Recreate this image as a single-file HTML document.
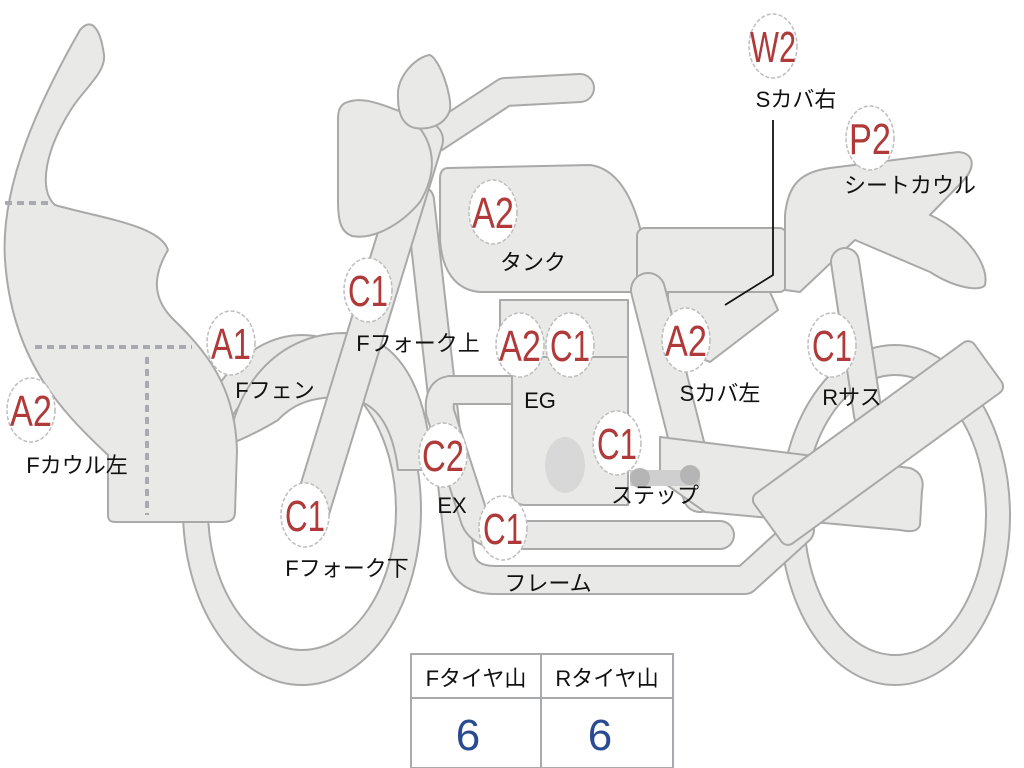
<!DOCTYPE html>
<html><head><meta charset="utf-8"><style>
html,body{margin:0;padding:0;background:#fff;}
svg{display:block}
.s{fill:#e9e9e7;stroke:#a9a9a9;stroke-width:2;stroke-linejoin:round}
.to{fill:none;stroke:#a9a9a9;stroke-linecap:round;stroke-linejoin:round}
.ti{fill:none;stroke:#e9e9e7;stroke-linecap:round;stroke-linejoin:round}
.lc{fill:#fff;stroke:#bdbdbd;stroke-width:1.5;stroke-dasharray:4 2}
.r{fill:#b03a3a;font-family:"Liberation Sans",sans-serif;font-size:44px;text-anchor:middle}
.k{fill:#111;font-family:"Liberation Sans","Noto Sans CJK JP",sans-serif;font-size:22px;text-anchor:middle}
</style></head><body>
<svg width="1024" height="768" viewBox="0 0 1024 768" xmlns="http://www.w3.org/2000/svg">
<!-- wheels -->
<ellipse class="s" cx="302" cy="510" rx="119" ry="175"/>
<ellipse cx="302" cy="510" rx="94" ry="140" fill="#fff" stroke="#a9a9a9" stroke-width="2"/>
<ellipse class="s" cx="895" cy="515" rx="115" ry="170"/>
<ellipse cx="895" cy="515" rx="91" ry="140" fill="#fff" stroke="#a9a9a9" stroke-width="2"/>
<!-- front fender -->
<path class="s" d="M228,445 C240,370 290,333 345,333 C400,336 428,390 432,470 L398,470 C392,420 372,398 340,397 C310,397 292,405 278,420 C262,430 245,438 228,445 Z"/>
<!-- fairing -->
<path class="s" d="M108,515 L108,455 C60,410 12,360 5,260 C0,185 40,100 80,30 C90,18 100,25 104,55 C106,72 85,88 72,108 C45,150 38,190 55,205 C100,218 160,225 168,250 C155,272 150,295 172,318 C205,350 235,385 237,450 L235,512 C235,520 230,522 222,522 L116,522 C110,522 108,520 108,515 Z"/>
<g stroke="#a9a9b0" stroke-width="4" stroke-dasharray="7 5" fill="none">
<line x1="5" y1="203" x2="50" y2="203"/>
<line x1="35" y1="347" x2="192" y2="347"/>
<line x1="147" y1="357" x2="147" y2="515"/>
</g>
<!-- frame lower & EX tubes -->
<path class="to" stroke-width="30" d="M420,200 L460,555 Q465,580 495,580 L745,580 L800,530"/>
<path class="ti" stroke-width="26" d="M420,200 L460,555 Q465,580 495,580 L745,580 L800,530"/>
<path class="to" stroke-width="30" d="M515,390 L450,390 Q438,392 440,412 L475,520 Q482,535 505,535 L720,535"/>
<path class="ti" stroke-width="26" d="M515,390 L450,390 Q438,392 440,412 L475,520 Q482,535 505,535 L720,535"/>
<!-- handlebar -->
<path class="to" stroke-width="30" d="M435,138 L505,92 L580,88"/>
<path class="ti" stroke-width="26" d="M435,138 L505,92 L580,88"/>
<!-- fork -->
<path class="to" stroke-width="38" d="M425,140 L310,515"/>
<path class="ti" stroke-width="34" d="M425,140 L310,515"/>
<!-- headlight -->
<path class="s" d="M345,103 C362,95 382,105 402,112 C432,132 442,165 420,202 C400,226 372,240 352,236 C341,232 338,222 338,200 L338,120 C338,110 340,106 345,103 Z"/>
<!-- mirror -->
<path class="s" d="M398,98 C396,75 418,56 430,55 C440,60 452,95 450,110 C445,125 430,130 415,128 C402,125 398,112 398,98 Z"/>
<!-- tank -->
<path class="s" d="M448,168 L590,165 C628,170 645,225 648,285 C648,290 645,292 640,292 L480,292 C455,290 442,270 440,240 L440,178 C440,172 443,168 448,168 Z"/>
<!-- seat -->
<rect class="s" x="637" y="228" width="150" height="64" rx="8"/>
<!-- seat cowl -->
<path class="s" d="M785,290 L785,215 C788,185 800,172 830,168 L958,152 C975,153 976,168 962,182 L930,215 C960,228 990,262 985,285 C980,292 955,288 930,272 L855,240 L800,292 Z"/>
<!-- side cover -->
<path class="s" d="M668,292 L770,292 L778,310 L710,362 L668,345 Z"/>
<!-- right frame tube -->
<path class="to" stroke-width="36" d="M648,290 L700,495"/>
<path class="ti" stroke-width="32" d="M648,290 L700,495"/>
<!-- rear shock -->
<path class="to" stroke-width="30" d="M845,262 L868,415"/>
<path class="ti" stroke-width="26" d="M845,262 L868,415"/>
<!-- EG -->
<rect class="s" x="500" y="300" width="128" height="57"/>
<path class="s" d="M512,357 L628,357 L628,505 L525,505 Q512,505 512,490 Z"/>
<ellipse cx="565" cy="465" rx="20" ry="28" fill="#d8d8d8"/>
<!-- swingarm -->
<path class="s" d="M660,437 L910,468 C922,472 924,482 922,490 L920,525 C918,532 910,532 900,530 L705,512 L660,480 Z"/>
<!-- step -->
<rect x="630" y="470" width="70" height="16" fill="#cfcfcf"/>
<circle cx="640" cy="478" r="10" fill="#b5b5b5"/>
<circle cx="690" cy="475" r="10" fill="#b5b5b5"/>
<!-- muffler -->
<rect class="s" x="742" y="412" width="272" height="62" rx="8" transform="rotate(-36 878 443)"/>
<!-- W2 leader -->
<path d="M773,120 L773,275 L725,305" fill="none" stroke="#111" stroke-width="1.8" stroke-dasharray="0"/>
<!-- label circles -->
<g>
<ellipse class="lc" cx="773" cy="46" rx="24" ry="32"/>
<ellipse class="lc" cx="870" cy="138" rx="24" ry="32"/>
<ellipse class="lc" cx="493" cy="212" rx="24" ry="32"/>
<ellipse class="lc" cx="368" cy="290" rx="24" ry="32"/>
<ellipse class="lc" cx="231" cy="343" rx="24" ry="32"/>
<ellipse class="lc" cx="520" cy="345" rx="24" ry="32"/>
<ellipse class="lc" cx="570" cy="345" rx="24" ry="32"/>
<ellipse class="lc" cx="686" cy="340" rx="24" ry="32"/>
<ellipse class="lc" cx="832" cy="345" rx="24" ry="32"/>
<ellipse class="lc" cx="31" cy="410" rx="24" ry="32"/>
<ellipse class="lc" cx="443" cy="455" rx="24" ry="32"/>
<ellipse class="lc" cx="617" cy="443" rx="24" ry="32"/>
<ellipse class="lc" cx="305" cy="515" rx="24" ry="32"/>
<ellipse class="lc" cx="503" cy="528" rx="24" ry="32"/>
</g>
<g class="r">
<text class="r" x="773" y="62" textLength="46" lengthAdjust="spacingAndGlyphs">W2</text>
<text class="r" x="870" y="154" textLength="42" lengthAdjust="spacingAndGlyphs">P2</text>
<text class="r" x="493" y="228" textLength="42" lengthAdjust="spacingAndGlyphs">A2</text>
<text class="r" x="368" y="306" textLength="40" lengthAdjust="spacingAndGlyphs">C1</text>
<text class="r" x="231" y="359" textLength="40" lengthAdjust="spacingAndGlyphs">A1</text>
<text class="r" x="520" y="361" textLength="42" lengthAdjust="spacingAndGlyphs">A2</text>
<text class="r" x="570" y="361" textLength="40" lengthAdjust="spacingAndGlyphs">C1</text>
<text class="r" x="686" y="356" textLength="42" lengthAdjust="spacingAndGlyphs">A2</text>
<text class="r" x="832" y="361" textLength="40" lengthAdjust="spacingAndGlyphs">C1</text>
<text class="r" x="31" y="426" textLength="42" lengthAdjust="spacingAndGlyphs">A2</text>
<text class="r" x="443" y="471" textLength="42" lengthAdjust="spacingAndGlyphs">C2</text>
<text class="r" x="617" y="459" textLength="40" lengthAdjust="spacingAndGlyphs">C1</text>
<text class="r" x="305" y="531" textLength="40" lengthAdjust="spacingAndGlyphs">C1</text>
<text class="r" x="503" y="544" textLength="40" lengthAdjust="spacingAndGlyphs">C1</text>
</g>
<g>
<text class="k" x="796" y="107">Sカバ右</text>
<text class="k" x="910" y="193">シートカウル</text>
<text class="k" x="533" y="270">タンク</text>
<text class="k" x="418" y="351">Fフォーク上</text>
<text class="k" x="275" y="398">Fフェン</text>
<text class="k" x="540" y="408">EG</text>
<text class="k" x="720" y="401">Sカバ左</text>
<text class="k" x="852" y="405">Rサス</text>
<text class="k" x="77" y="473">Fカウル左</text>
<text class="k" x="452" y="513">EX</text>
<text class="k" x="655" y="503">ステップ</text>
<text class="k" x="347" y="576">Fフォーク下</text>
<text class="k" x="548" y="591">フレーム</text>
</g>
<!-- table -->
<rect x="411" y="654" width="262" height="114" fill="#fff" stroke="#a9a9b0" stroke-width="2"/>
<line x1="411" y1="698" x2="673" y2="698" stroke="#a9a9b0" stroke-width="2"/>
<line x1="541" y1="654" x2="541" y2="768" stroke="#a9a9b0" stroke-width="2"/>
<text class="k" x="476" y="686">Fタイヤ山</text>
<text class="k" x="607" y="686">Rタイヤ山</text>
<text x="468" y="750" fill="#2a4a92" font-family="Liberation Sans,sans-serif" font-size="44" text-anchor="middle">6</text>
<text x="600" y="750" fill="#2a4a92" font-family="Liberation Sans,sans-serif" font-size="44" text-anchor="middle">6</text>
</svg>
</body></html>
